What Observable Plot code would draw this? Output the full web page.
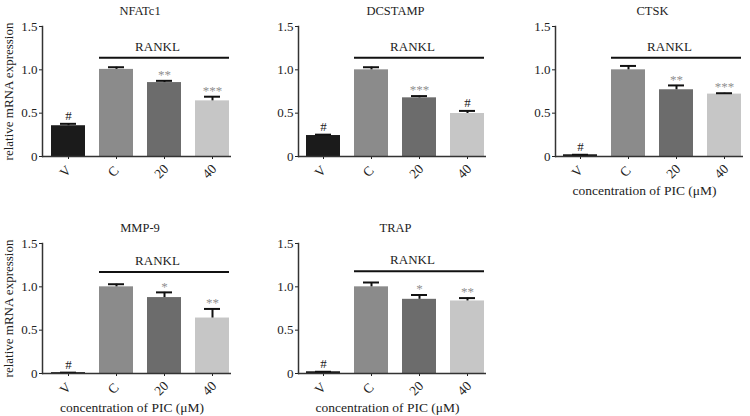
<!DOCTYPE html>
<html><head><meta charset="utf-8">
<script src="https://cdn.jsdelivr.net/npm/d3@7"></script>
<script src="https://cdn.jsdelivr.net/npm/@observablehq/plot@0.6"></script>
<style>
body{margin:0;background:#fff;}
#chart{position:relative;width:750px;height:416px;font-family:"Liberation Serif",serif;}
</style></head><body><div id="chart"></div>
<script>
const groups = ["V", "C", "20", "40"];
const groupColors = ["#1b1b1b", "#8b8b8b", "#6c6c6c", "#c6c6c6"];
const yTicks = [0, 0.5, 1.0, 1.5];
const yTickLabels = ["0", "0.5", "1.0", "1.5"];
const yAxisLabel = "relative mRNA expression";
const xAxisLabel = "concentration of PIC (μM)";
const bracketLabel = "RANKL";

const nfatc1Mean = [0.355, 1.005, 0.853, 0.642];
const nfatc1Err  = [0.022, 0.025, 0.02, 0.048];
const nfatc1Sig  = ["#", "", "**", "***"];

const dcstampMean = [0.242, 1.0, 0.677, 0.496];
const dcstampErr  = [0.01, 0.03, 0.02, 0.03];
const dcstampSig  = ["#", "", "***", "#"];

const ctskMean = [0.02, 1.0, 0.77, 0.72];
const ctskErr  = [0.0, 0.045, 0.05, 0.01];
const ctskSig  = ["#", "", "**", "***"];

const mmp9Mean = [0.01, 1.0, 0.876, 0.64];
const mmp9Err  = [0.0, 0.03, 0.06, 0.105];
const mmp9Sig  = ["#", "", "*", "**"];

const trapMean = [0.02, 1.0, 0.856, 0.837];
const trapErr  = [0.0, 0.05, 0.05, 0.033];
const trapSig  = ["#", "", "*", "**"];

const panels = [
  {gene: "NFATc1",  mean: nfatc1Mean,  err: nfatc1Err,  sig: nfatc1Sig,  left: 0,   top: 0,   ml: 42, mr: 19, yLab: true,  xLab: false, bracketY: 1.14},
  {gene: "DCSTAMP", mean: dcstampMean, err: dcstampErr, sig: dcstampSig, left: 250, top: 0,   ml: 48, mr: 14, yLab: false, xLab: false, bracketY: 1.14},
  {gene: "CTSK",    mean: ctskMean,    err: ctskErr,    sig: ctskSig,    left: 500, top: 0,   ml: 55, mr: 7,  yLab: false, xLab: true,  bracketY: 1.14},
  {gene: "MMP-9",   mean: mmp9Mean,    err: mmp9Err,    sig: mmp9Sig,    left: 0,   top: 217, ml: 42, mr: 19, yLab: true,  xLab: true,  bracketY: 1.17},
  {gene: "TRAP",    mean: trapMean,    err: trapErr,    sig: trapSig,    left: 250, top: 217, ml: 48, mr: 14, yLab: false, xLab: true,  bracketY: 1.18}
];

function panel(cfg) {
  const data = groups.map((g, i) => ({group: g, mean: cfg.mean[i], top: cfg.mean[i] + cfg.err[i], sig: cfg.sig[i]}));
  const bracket = [{from: groups[1], to: groups[3], mid: groups[2], y: cfg.bracketY, label: bracketLabel}];
  const marks = [
    Plot.barY(data, {x: "group", y: "mean", fill: "group"}),
    Plot.ruleX(data, {x: "group", y1: "mean", y2: "top", stroke: "#111", strokeWidth: 2}),
    Plot.tickY(data, {x: "group", y: "top", stroke: "#111", strokeWidth: 2, insetLeft: 9, insetRight: 9}),
    Plot.text(data.filter(d => d.sig === "#"), {x: "group", y: "top", text: "sig", dy: -8, fill: "#222", fontSize: 13}),
    Plot.text(data.filter(d => d.sig.startsWith("*")), {x: "group", y: "top", text: "sig", dy: -6, fill: "#8f8f8f", fontSize: 13}),
    Plot.ruleY(bracket, {x1: "from", x2: "to", y: "y", stroke: "#111", strokeWidth: 2}),
    Plot.text(bracket, {x: "mid", y: "y", text: "label", dy: -11, dx: -7, fill: "#222", fontSize: 13}),
    Plot.ruleY([0], {stroke: "#333", strokeWidth: 1.5}),
    Plot.frame({anchor: "left", stroke: "#333", strokeWidth: 1.5}),
    Plot.text(groups, {x: d => d, frameAnchor: "bottom", rotate: -45, dy: 18, textAnchor: "middle", fill: "#222", fontSize: 13.5}),
    Plot.text([cfg.gene], {frameAnchor: "top", dy: -20, dx: 3, fill: "#222", fontSize: 12.5})
  ];
  if (cfg.yLab) marks.push(Plot.text([yAxisLabel], {frameAnchor: "left", rotate: -90, dx: -34, textAnchor: "middle", fill: "#222", fontSize: 13}));
  if (cfg.xLab) marks.push(Plot.text([xAxisLabel], {frameAnchor: "bottom", dy: 38, dx: -5, textAnchor: "middle", fill: "#222", fontSize: 13.5}));
  return Plot.plot({
    width: 250, height: 208,
    marginLeft: cfg.ml, marginRight: cfg.mr, marginTop: 26, marginBottom: 52,
    style: {fontFamily: '"Liberation Serif", serif', fontSize: "13px", color: "#222", background: "transparent"},
    x: {domain: groups, paddingInner: 0.29, paddingOuter: 0.1, align: 0.85, tickSize: 3, tickFormat: () => "", label: null},
    y: {domain: [0, 1.5], ticks: yTicks, tickFormat: d => yTickLabels[yTicks.indexOf(d)], tickSize: 3, tickPadding: 2, label: null},
    color: {domain: groups, range: groupColors},
    marks
  });
}

const chart = document.getElementById("chart");
for (const cfg of panels) {
  const el = panel(cfg);
  el.style.position = "absolute";
  el.style.left = cfg.left + "px";
  el.style.top = cfg.top + "px";
  chart.appendChild(el);
}
</script></body></html>
